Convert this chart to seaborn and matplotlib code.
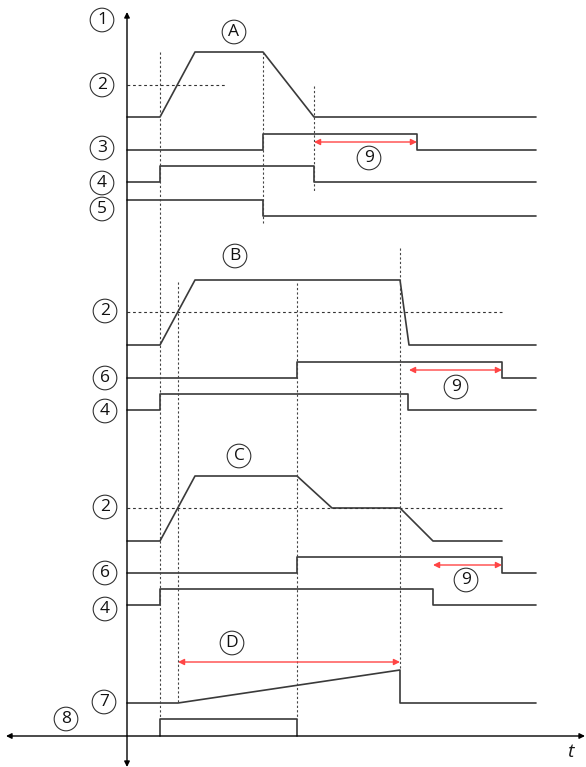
import matplotlib
matplotlib.use("Agg")
import matplotlib.pyplot as plt
import seaborn as sns
import pandas as pd

sns.set_theme(style="white")
plt.rcParams['font.family'] = ['Open Sans', 'DejaVu Sans']

# ---- waveform data (time position, level) in diagram units ----
speed_a_t = [127, 160, 195, 263, 314, 536]
speed_a_v = [117, 117, 52, 52, 117, 117]
sig3_t = [127, 263, 263, 417, 417, 536]
sig3_v = [150, 150, 134, 134, 150, 150]
sig4a_t = [127, 160, 160, 314, 314, 536]
sig4a_v = [182, 182, 166, 166, 182, 182]
sig5_t = [127, 263, 263, 536]
sig5_v = [200, 200, 216, 216]

speed_b_t = [127, 160, 195, 400, 409, 536]
speed_b_v = [345, 345, 280, 280, 345, 345]
sig6b_t = [127, 297, 297, 502, 502, 536]
sig6b_v = [378, 378, 362, 362, 378, 378]
sig4b_t = [127, 160, 160, 408, 408, 536]
sig4b_v = [410, 410, 394, 394, 410, 410]

speed_c_t = [127, 160, 195, 297, 332, 400, 433, 502]
speed_c_v = [541, 541, 476, 476, 508, 508, 541, 541]
sig6c_t = [127, 297, 297, 502, 502, 536]
sig6c_v = [573, 573, 557, 557, 573, 573]
sig4c_t = [127, 160, 160, 433, 433, 536]
sig4c_v = [605, 605, 589, 589, 605, 605]

sig7_t = [127, 178, 400, 400, 536]
sig7_v = [703, 703, 670, 703, 703]
sig8_t = [160, 160, 297, 297]
sig8_v = [736, 719, 719, 736]

signals = {
    "A": (speed_a_t, speed_a_v), "3": (sig3_t, sig3_v), "4a": (sig4a_t, sig4a_v),
    "5": (sig5_t, sig5_v), "B": (speed_b_t, speed_b_v), "6b": (sig6b_t, sig6b_v),
    "4b": (sig4b_t, sig4b_v), "C": (speed_c_t, speed_c_v), "6c": (sig6c_t, sig6c_v),
    "4c": (sig4c_t, sig4c_v), "7": (sig7_t, sig7_v), "8": (sig8_t, sig8_v),
}

# threshold (dashed horizontal) lines: level, start, end
thresh_level = [85, 312, 508]
thresh_start = [127, 127, 127]
thresh_end = [227, 503, 502]

# event markers (dotted vertical): time, top, bottom
event_t = [160, 263, 314, 178, 297, 400]
event_top = [52, 52, 86, 282, 283, 248]
event_bot = [719, 223, 192, 703, 719, 670]

# red interval arrows: start, end, level
interval_start = [314, 409, 433, 178]
interval_end = [417, 502, 502, 400]
interval_level = [142, 370, 565, 662]

# circled labels
label_text = ["1", "A", "2", "3", "4", "5", "B", "2", "6", "4", "C", "2", "6", "4",
              "D", "7", "8", "9", "9", "9"]
label_x = [102, 234, 102, 102, 102, 102, 235, 105, 105, 105, 239, 105, 105, 105,
           232, 104, 66, 369, 456, 466]
label_y = [20, 32, 85, 148, 183, 209, 256, 311, 378, 411, 456, 507, 573, 609,
           643, 702, 719, 158, 387, 580]

rows = []
for name, (ts, vs) in signals.items():
    for i, (t, v) in enumerate(zip(ts, vs)):
        rows.append({"sig": name, "order": i, "t": t, "v": v})
df = pd.DataFrame(rows)

fig = plt.figure(figsize=(5.86, 7.67), dpi=100)
ax = fig.add_axes([0, 0, 1, 1])
ax.set_xlim(0, 586)
ax.set_ylim(767, 0)
ax.axis("off")

line_col = "#3a3a3a"
sns.lineplot(data=df, x="t", y="v", units="sig", estimator=None, sort=False,
             color=line_col, lw=1.2, ax=ax, legend=False)

for lv, s, e in zip(thresh_level, thresh_start, thresh_end):
    ax.plot([s, e], [lv, lv], color="#333333", lw=0.8, ls=(0, (2.5, 2.5)))

for t, a, b in zip(event_t, event_top, event_bot):
    ax.plot([t, t], [a, b], color="#444444", lw=0.8, ls=(0, (2, 2)))

for s, e, lv in zip(interval_start, interval_end, interval_level):
    ax.annotate("", xy=(e, lv), xytext=(s, lv),
                arrowprops=dict(arrowstyle="<|-|>", color="#ff4545", lw=1.0,
                                mutation_scale=9, shrinkA=0, shrinkB=0))

# axes arrows
ax.annotate("", xy=(127, 12), xytext=(127, 767),
            arrowprops=dict(arrowstyle="<|-|>", color="black", lw=1.0,
                            mutation_scale=8, shrinkA=0, shrinkB=0))
ax.annotate("", xy=(585, 736), xytext=(6, 736),
            arrowprops=dict(arrowstyle="<|-|>", color="black", lw=1.0,
                            mutation_scale=8, shrinkA=0, shrinkB=0))

for txt, x, y in zip(label_text, label_x, label_y):
    ax.text(x, y, txt, ha="center", va="center", fontsize=12.5, color="#111111",
            bbox=dict(boxstyle="circle,pad=0.22", fc="white", ec="#333333", lw=0.8))

ax.text(570, 752, "t", ha="center", va="center", fontsize=14, style="italic",
        color="#1a1a1a")

fig.savefig("out.png", dpi=100)
